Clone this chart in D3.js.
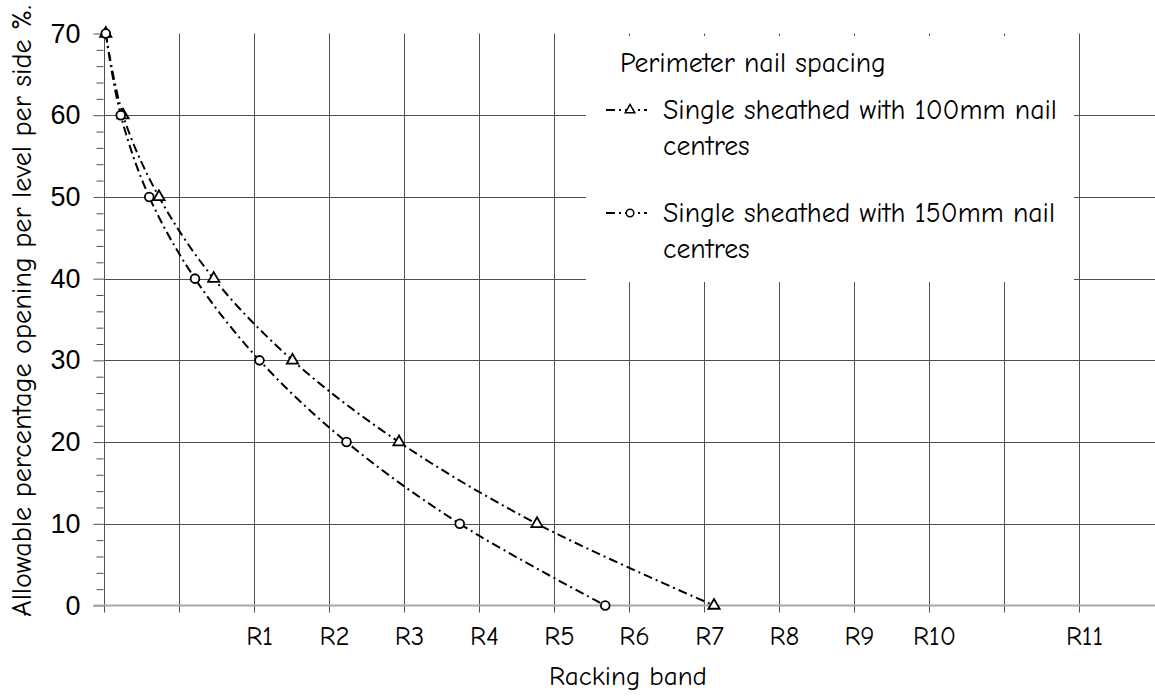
<!DOCTYPE html>
<html>
<head>
<meta charset="utf-8">
<script src="https://cdn.jsdelivr.net/npm/d3@7"></script>
<style>
  html, body { margin: 0; padding: 0; background: #fff; }
  svg { display: block; font-family: "Comic Sans MS", "Comic Neue", "Noto Sans", sans-serif; }
</style>
</head>
<body>
<svg id="chart" width="1155" height="700"></svg>
<script>
// ---- data ----
const percentValues = [70, 60, 50, 40, 30, 20, 10, 0];
// x position in racking-band grid units (one gridline per unit)
const band100mm = [0.03, 0.26, 0.74, 1.47, 2.52, 3.94, 5.78, 8.14];
const band150mm = [0.03, 0.23, 0.61, 1.22, 2.08, 3.24, 4.75, 6.69];
const bandLabels = ["R1", "R2", "R3", "R4", "R5", "R6", "R7", "R8", "R9", "R10", "R11"];
const bandTickValues = [2, 3, 4, 5, 6, 7, 8, 9, 10, 11, 13];
const yTickLabels = [0, 10, 20, 30, 40, 50, 60, 70];
const yMinorTicks = [2, 4, 6, 8, 12, 14, 16, 18, 22, 24, 26, 28, 32, 34, 36, 38, 42, 44, 46, 48, 52, 54, 56, 58, 62, 64, 66, 68];
const gridUnits = [0, 1, 2, 3, 4, 5, 6, 7, 8, 9, 10, 11, 12, 13];
const seriesNames = ["Single sheathed with 100mm nail", "Single sheathed with 150mm nail"];
const legendTitle = "Perimeter nail spacing";

const series = [
  { name: seriesNames[0], values: band100mm, symbol: d3.symbolTriangle },
  { name: seriesNames[1], values: band150mm, symbol: d3.symbolCircle }
];

const svg = d3.select("#chart");
const W = 1155;
const x = d3.scaleLinear().domain([0, 14]).range([103.5, 1153.5]);
const y = d3.scaleLinear().domain([0, 70]).range([605.5, 33.5]);

const gridColor = "#505050";
const dash = "9,4,2,4";

function fit(sel, target) {
  const w = sel.node().getComputedTextLength();
  const fs = parseFloat(sel.attr("font-size"));
  const nfs = fs * target / w;
  sel.attr("font-size", nfs);
  return nfs;
}

// horizontal gridlines
svg.append("g").selectAll("line")
  .data(yTickLabels.filter(v => v > 0 && v < 70))
  .join("line")
  .attr("x1", x(0)).attr("x2", W)
  .attr("y1", d => Math.round(y(d)) + 0.5).attr("y2", d => Math.round(y(d)) + 0.5)
  .attr("stroke", gridColor).attr("stroke-width", 1);

// vertical gridlines (extend below axis as ticks)
svg.append("g").selectAll("line")
  .data(gridUnits)
  .join("line")
  .attr("x1", d => Math.round(x(d)) + 0.5).attr("x2", d => Math.round(x(d)) + 0.5)
  .attr("y1", y(70)).attr("y2", y(0) + 7)
  .attr("stroke", gridColor).attr("stroke-width", 1);

// y axis major ticks
const yAxis = d3.axisLeft(y).tickValues(yTickLabels).tickSize(10).tickPadding(13);
const gy = svg.append("g").attr("transform", `translate(${x(0)},0)`).call(yAxis);
gy.select(".domain").remove();
gy.selectAll(".tick line").attr("stroke", gridColor);
const yLabels = gy.selectAll(".tick text").attr("fill", "#000").attr("font-size", 22)
  .attr("font-family", null);
const ySize = fit(gy.select(".tick:last-of-type text"), 30);
yLabels.attr("font-size", ySize);

// y minor ticks
const gym = svg.append("g").attr("transform", `translate(${x(0)},0)`)
  .call(d3.axisLeft(y).tickValues(yMinorTicks).tickSize(7).tickFormat(""));
gym.select(".domain").remove();
gym.selectAll(".tick line").attr("stroke", gridColor);

// x axis line (value 0)
svg.append("line")
  .attr("x1", x(0) - 10).attr("x2", W)
  .attr("y1", y(0)).attr("y2", y(0))
  .attr("stroke", "#a8a8a8").attr("stroke-width", 2);

// x band labels
const gx = svg.append("g");
const xl = gx.selectAll("text").data(bandLabels).join("text")
  .attr("x", (d, i) => x(bandTickValues[i]) + 6)
  .attr("y", 645)
  .attr("text-anchor", "middle")
  .attr("font-size", 22)
  .text(d => d);
const xSize = fit(xl.filter(d => d === "R10"), 43);
xl.attr("font-size", xSize);

// lines
const line = d3.line()
  .x((d, i) => x(d))
  .y((d, i) => y(percentValues[i]))
  .curve(d3.curveCatmullRom.alpha(0.5));

const gs = svg.append("g").selectAll("g").data(series).join("g");
gs.append("path")
  .attr("d", d => line(d.values))
  .attr("fill", "none")
  .attr("stroke", "#000")
  .attr("stroke-width", 2)
  .attr("stroke-dasharray", dash);

gs.each(function(s) {
  d3.select(this).selectAll("path.m").data(s.values).join("path")
    .attr("class", "m")
    .attr("transform", (d, i) => `translate(${x(d)},${y(percentValues[i])})`)
    .attr("d", d3.symbol().type(s.symbol).size(s.symbol === d3.symbolCircle ? 60 : 55))
    .attr("fill", "#fff")
    .attr("stroke", "#000")
    .attr("stroke-width", 1.8);
});

// legend
const lg = svg.append("g");
lg.append("rect").attr("x", 586).attr("y", 36).attr("width", 488).attr("height", 246).attr("fill", "#fff");
const lt = lg.append("text").attr("x", 620).attr("y", 72).attr("font-size", 22).text(legendTitle);
fit(lt, 266);

const entryBase = [119, 222];
const entryTexts = [];
series.forEach((s, i) => {
  const by = entryBase[i];
  const symY = by - 9;
  lg.append("line").attr("x1", 606).attr("x2", 647).attr("y1", symY).attr("y2", symY)
    .attr("stroke", "#000").attr("stroke-width", 2).attr("stroke-dasharray", dash);
  lg.append("path")
    .attr("transform", `translate(630,${symY})`)
    .attr("d", d3.symbol().type(s.symbol).size(s.symbol === d3.symbolCircle ? 45 : 40))
    .attr("fill", "#fff").attr("stroke", "#000").attr("stroke-width", 1.5);
  entryTexts.push(lg.append("text").attr("x", 663).attr("y", by).attr("font-size", 22).text(s.name));
  entryTexts.push(lg.append("text").attr("x", 663).attr("y", by + 36).attr("font-size", 22).text("centres"));
});
const eSize = fit(entryTexts[0], 394);
entryTexts.forEach(t => t.attr("font-size", eSize));

// axis titles
const xt = svg.append("text").attr("x", 628).attr("y", 685).attr("text-anchor", "middle")
  .attr("font-size", 22).text("Racking band");
fit(xt, 158);

const yt = svg.append("text")
  .attr("transform", "translate(31,311) rotate(-90)")
  .attr("text-anchor", "middle")
  .attr("font-size", 22)
  .text("Allowable percentage opening per level per side %.");
fit(yt, 612);
</script>
</body>
</html>
